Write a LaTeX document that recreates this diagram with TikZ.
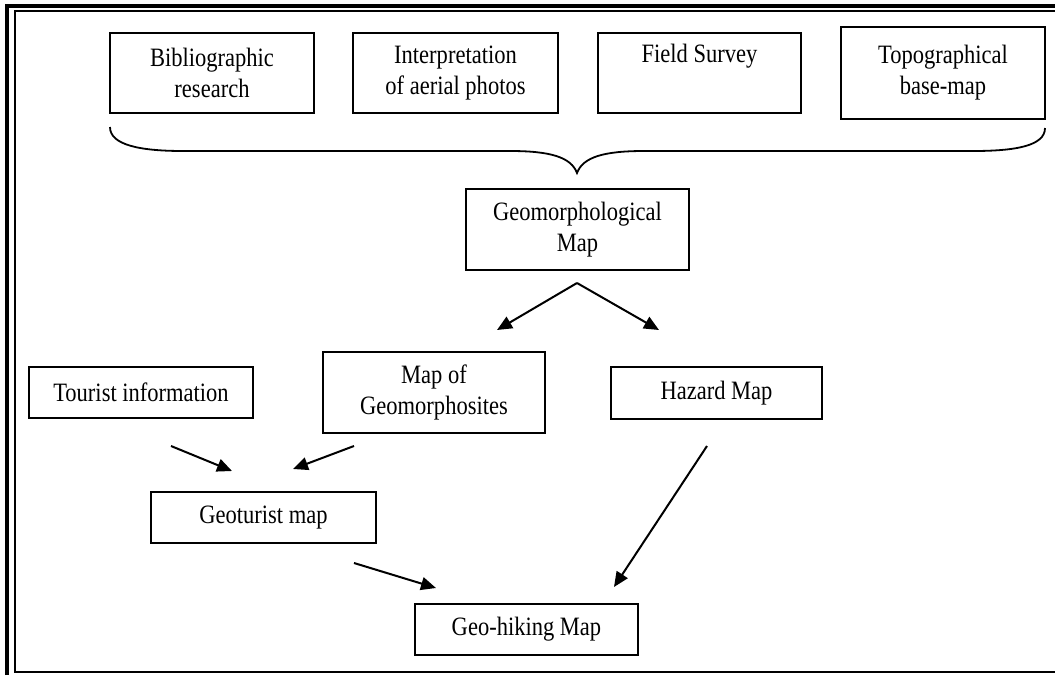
\documentclass[tikz,border=0pt]{standalone}
\usepackage{fontspec}
\setmainfont{Liberation Serif}[FakeStretch=0.85]
\usetikzlibrary{arrows.meta}
\begin{document}
\begin{tikzpicture}[x=1pt,y=-1pt,
  box/.style={draw, line width=1.8pt, inner sep=0pt, align=center,
    font=\fontsize{26.5}{31}\selectfont},
  arr/.style={line width=2pt, -{Triangle[length=15pt,width=13pt]}},
  bracepath/.style={line width=1.8pt}]
\useasboundingbox (0,0) rectangle (1055,675);
\fill[white] (0,0) rectangle (1055,675);
% outer frame
\draw[line width=4pt] (6.5,675) -- (6.5,5.5) -- (1055,5.5);
\draw[line width=2pt] (1055,11) -- (14.5,11) -- (14.5,672) -- (1055,672);
% top row
\node[box, minimum width=204pt, minimum height=80pt] (bib) at (212,73) {Bibliographic\\research};
\node[box, minimum width=205pt, minimum height=80pt] (interp) at (455.5,73) {Interpretation\\of aerial photos};
\node[box, minimum width=203pt, minimum height=80pt] (field) at (699.5,73) {Field Survey\\\strut};
\node[box, minimum width=204pt, minimum height=92pt] (topo) at (943,73) {Topographical\\base-map};
% brace
\draw[bracepath] (110,127) .. controls (110,145) and (140,151) .. (183,151)
  -- (510,151) .. controls (550,151) and (571,157) .. (577,173)
  .. controls (583,157) and (604,151) .. (644,151)
  -- (973,151) .. controls (1015,151) and (1045,146) .. (1045,128);
% middle
\node[box, minimum width=223pt, minimum height=81pt] (geomap) at (577.5,229.5) {Geomorphological\\Map};
\node[box, minimum width=222pt, minimum height=81pt] (geomorph) at (434,392.5) {Map of\\Geomorphosites};
\node[box, minimum width=224pt, minimum height=51pt] (tourist) at (141,392.5) {Tourist information};
\node[box, minimum width=211pt, minimum height=52pt] (hazard) at (716.5,393) {Hazard Map};
\node[box, minimum width=225pt, minimum height=51pt] (geoturist) at (263.5,517.5) {Geoturist map};
\node[box, minimum width=223pt, minimum height=51pt] (geohike) at (526.5,629.5) {Geo-hiking Map};
% connector end points
\coordinate (gmout) at (577,283);
\coordinate (gmin) at (497,330);
\coordinate (hzin) at (659,330);
\coordinate (tiout) at (171,446);
\coordinate (gtin1) at (232,471);
\coordinate (gsout) at (354,446);
\coordinate (gtin2) at (293,469);
\coordinate (hzout) at (707,446);
\coordinate (ghin1) at (614,587);
\coordinate (gtout) at (354,563);
\coordinate (ghin2) at (436,588);
% connectors
\draw[arr] (gmout) -- (gmin);
\draw[arr] (gmout) -- (hzin);
\draw[arr] (tiout) -- (gtin1);
\draw[arr] (gsout) -- (gtin2);
\draw[arr] (hzout) -- (ghin1);
\draw[arr] (gtout) -- (ghin2);
\end{tikzpicture}
\end{document}
